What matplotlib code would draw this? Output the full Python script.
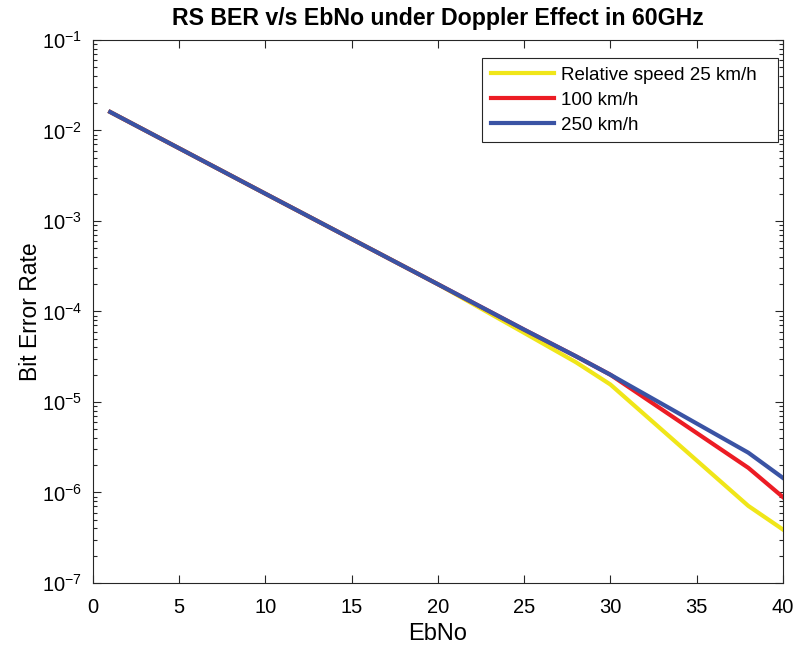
import numpy as np
import matplotlib.pyplot as plt
from matplotlib.ticker import LogLocator, NullFormatter

plt.rcParams['font.family'] = ['Liberation Sans', 'DejaVu Sans']
plt.rcParams['mathtext.fontset'] = 'custom'
plt.rcParams['mathtext.rm'] = 'Liberation Sans'
plt.rcParams['mathtext.it'] = 'Liberation Sans'

# EbNo points and BER values
ebno = [1, 10, 20, 25, 28, 30, 38, 40]
ber_25 = [1.6e-2, 2.0e-3, 2.0e-4, 5.8e-5, 2.75e-5, 1.56e-5, 7.1e-7, 3.9e-7]
ber_100 = [1.6e-2, 2.0e-3, 2.0e-4, 6.3e-5, 3.2e-5, 2.0e-5, 1.87e-6, 8.9e-7]
ber_250 = [1.6e-2, 2.0e-3, 2.0e-4, 6.3e-5, 3.2e-5, 2.0e-5, 2.75e-6, 1.45e-6]
labels = ['Relative speed 25 km/h', '100 km/h', '250 km/h']
colors = ['#F0E619', '#EC1C24', '#3A53A4']

axcol = '#262626'
fig = plt.figure(figsize=(7.98, 6.47), dpi=100)
ax = fig.add_axes([0.1165, 0.099, 0.8645, 0.8392])
for y, lab, c in zip([ber_25, ber_100, ber_250], labels, colors):
    ax.semilogy(ebno, y, color=c, lw=3, label=lab)

ax.set_xlim(0, 40)
ax.set_ylim(1e-7, 1e-1)
ax.set_xticks(np.arange(0, 41, 5))
ax.yaxis.set_major_locator(LogLocator(base=10, numticks=20))
ax.yaxis.set_minor_locator(LogLocator(base=10, subs=np.arange(2, 10), numticks=20))
ax.yaxis.set_minor_formatter(NullFormatter())
for s in ax.spines.values():
    s.set_color(axcol)
    s.set_linewidth(0.8)
ax.tick_params(which='both', direction='in', top=True, right=True, colors=axcol,
               labelcolor='k', labelsize=14.5, width=0.8)
ax.tick_params(axis='x', pad=11)
ax.tick_params(axis='y', pad=8)
ax.tick_params(which='major', length=6)
ax.tick_params(which='minor', length=3)
ax.set_xlabel('EbNo', fontsize=17, labelpad=4)
ax.set_ylabel('Bit Error Rate', fontsize=16.5, labelpad=0)
ax.set_title('RS BER v/s EbNo under Doppler Effect in 60GHz', fontsize=16.7,
             fontweight='bold', pad=11)
leg = ax.legend(loc='upper left', bbox_to_anchor=(0.5646, 0.5, 0.428, 0.4669),
                mode='expand', fontsize=13.5, fancybox=False, framealpha=1,
                edgecolor=axcol, handlelength=3.36, handletextpad=0.37,
                borderaxespad=0, borderpad=0.45, labelspacing=0.42)
leg.get_frame().set_linewidth(0.8)

plt.savefig('out.png', dpi=100)
